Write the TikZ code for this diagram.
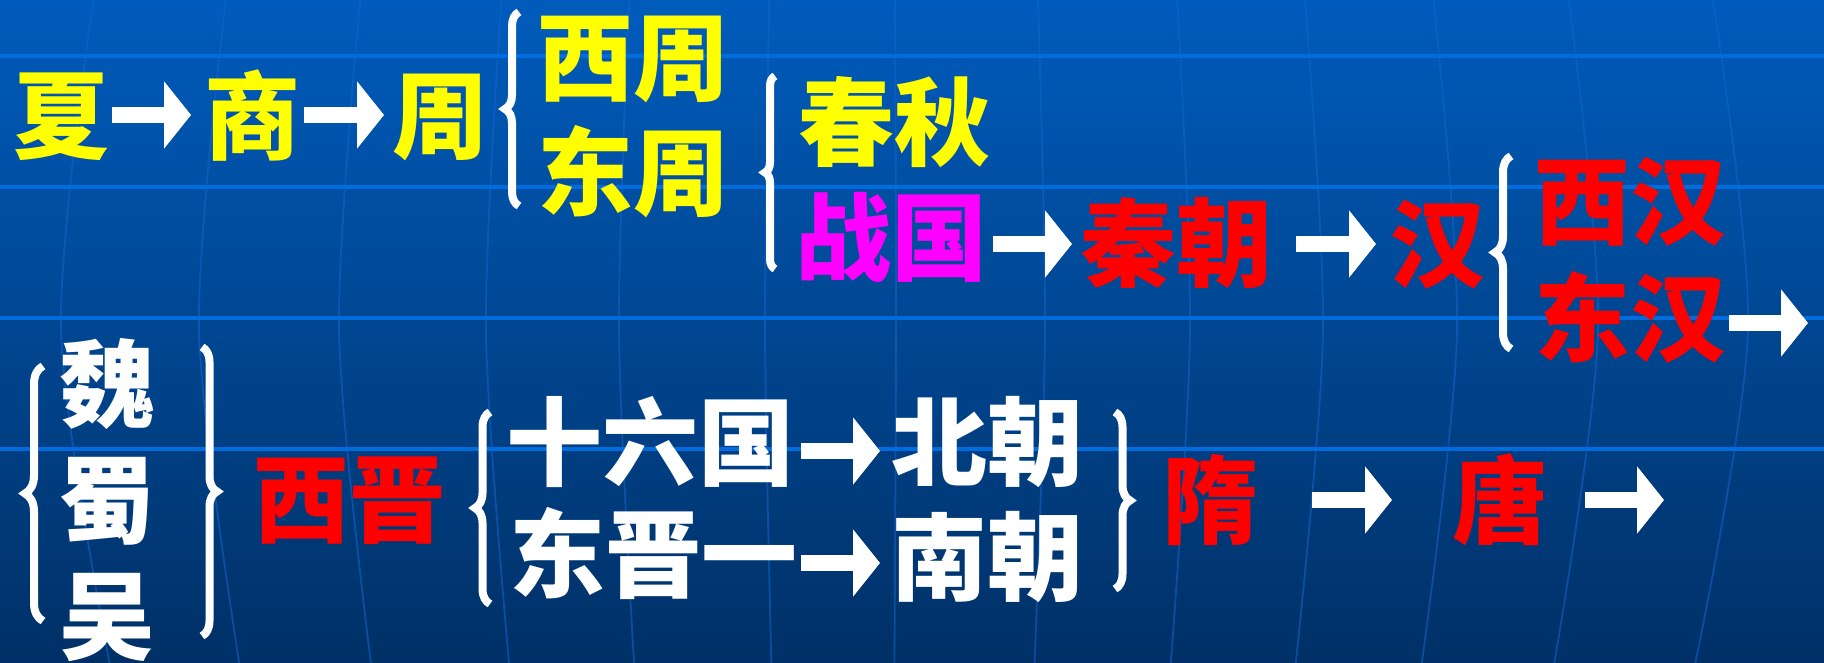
\documentclass[tikz,border=0pt]{standalone}
\usepackage{fontspec}
\newfontfamily\cjkfont{Noto Sans CJK SC}
\usetikzlibrary{arrows.meta,decorations.pathreplacing,calc}
\definecolor{bgtop}{RGB}{0,92,188}
\definecolor{bgbot}{RGB}{0,48,102}
\definecolor{gridh}{RGB}{0,108,222}
\definecolor{gridv}{RGB}{20,100,205}
\definecolor{cyel}{RGB}{255,255,0}
\definecolor{cred}{RGB}{255,0,0}
\definecolor{cmag}{RGB}{255,0,255}
\definecolor{cwht}{RGB}{255,255,255}
\begin{document}
\begin{tikzpicture}[x=0.5pt,y=-0.5pt,
  lbl/.style={font=\cjkfont\bfseries\fontsize{48pt}{52pt}\selectfont, inner sep=0pt, outer sep=0pt},
  blk/.style={draw=cwht, line width=8pt, -{Triangle[length=13.5pt,width=33pt]}},
  brc/.style={draw=cwht, line width=4pt, decorate, decoration={brace, amplitude=#1}},
  hline/.style={draw=gridh, line width=1.75pt},
  vline/.style={draw=gridv, draw opacity=0.55, line width=0.9pt}]
\useasboundingbox (0,0) rectangle (1824,663);
\shade[top color=bgtop, bottom color=bgbot] (0,0) rectangle (1824,663);
% grid
\foreach \m in {61,199,339,486,619,765,896,1045,1190,1323,1457,1598,1748} {
  \pgfmathsetmacro\tp{870+(\m-870)*0.96}
  \pgfmathsetmacro\bt{870+(\m-870)*0.94}
  \draw[vline] plot[smooth] coordinates {(\tp,0) (\m,330) (\bt,663)};
}
\foreach \yy in {56,187,318,449} {
  \draw[hline] (0,\yy) -- (1824,\yy);
}
% row 1
\node[lbl,text=cyel] (xia) at (61.5,117) {夏};
\node[lbl,text=cyel] (shang) at (252,116) {商};
\node[lbl,text=cyel] (zhou) at (440,118) {周};
\node[lbl,text=cyel] (xizhou) at (633,60) {西周};
\node[lbl,text=cyel] (dongzhou) at (633,172) {东周};
\node[lbl,text=cyel] (chunqiu) at (894,122) {春秋};
\node[lbl,text=cmag] (zhanguo) at (891,237) {战国};
\node[lbl,text=cred] (qinchao) at (1176,243) {秦朝};
\node[lbl,text=cred] (han) at (1437,245) {汉};
\node[lbl,text=cred] (xihan) at (1630,202) {西汉};
\node[lbl,text=cred] (donghan) at (1630,317) {东汉};
% row 2
\node[lbl,text=cwht] (wei) at (107,384) {魏};
\node[lbl,text=cwht] (shu) at (107,501) {蜀};
\node[lbl,text=cwht] (wu) at (107,618) {吴};
\node[lbl,text=cred] (xijin) at (349,501) {西晋};
\node[lbl,text=cwht] (shiliu) at (650,442) {十六国};
\node[lbl,text=cwht] (dongjin) at (653,553) {东晋一};
\node[lbl,text=cwht] (beichao) at (987,442) {北朝};
\node[lbl,text=cwht] (nanchao) at (987,557) {南朝};
\node[lbl,text=cred] (sui) at (1210,500) {隋};
\node[lbl,text=cred] (tang) at (1500,500) {唐};
\coordinate (endA) at (1808,323);
\coordinate (endB) at (1664,500);
% arrows
\draw[blk] ($(xia.east)+(2.5,-2)$) -- ($(xia.east -| shang.west)+(-13,-2)$);
\draw[blk] ($(shang.east)+(4,-1)$) -- ($(shang.east -| zhou.west)+(-8,-1)$);
\draw[blk] ($(zhanguo.east)+(6,7)$) -- ($(zhanguo.east -| qinchao.west)+(-8,7)$);
\draw[blk] ($(qinchao.east)+(24,1)$) -- ($(qinchao.east -| han.west)+(-13,1)$);
\draw[blk] ($(donghan.east)+(3,6)$) -- (endA);
\draw[blk] ($(shiliu.east)+(7,9)$) -- ($(shiliu.east -| beichao.west)+(-11,9)$);
\draw[blk] ($(dongjin.east)+(4,10)$) -- ($(dongjin.east -| nanchao.west)+(-11,10)$);
\draw[blk] ($(sui.east)+(54,0)$) -- ($(sui.east -| tang.west)+(-60,0)$);
\draw[blk] ($(tang.east)+(37,0)$) -- (endB);
% braces
\draw[brc=7pt] (519,206) -- (519,12);
\draw[brc=5pt] (775,269) -- (775,76);
\draw[brc=8pt] (1511,349) -- (1511,156);
\draw[brc=9pt] (43,621) -- (43,366);
\draw[brc=7.5pt] (202,347) -- (202,636);
\draw[brc=7.5pt] (490,604) -- (490,412);
\draw[brc=7.5pt] (1115,412) -- (1115,589);
\end{tikzpicture}
\end{document}
